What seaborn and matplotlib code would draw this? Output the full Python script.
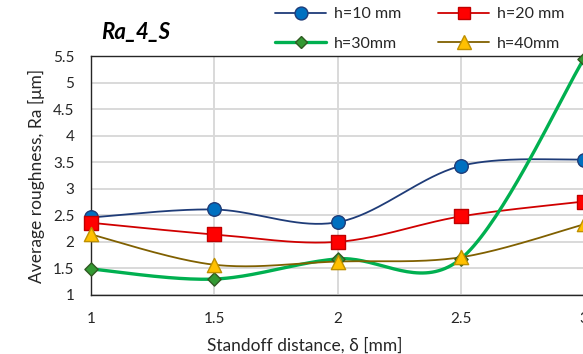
import numpy as np
import pandas as pd
import matplotlib
matplotlib.use("Agg")
import matplotlib.pyplot as plt
from matplotlib.lines import Line2D
import seaborn as sns

# ---- data ----
standoff = [1.0, 1.5, 2.0, 2.5, 3.0]
h10 = [2.46, 2.61, 2.37, 3.43, 3.55]
h20 = [2.36, 2.14, 2.00, 2.48, 2.76]
h30 = [1.49, 1.30, 1.68, 1.68, 5.45]
h40 = [2.14, 1.57, 1.63, 1.71, 2.33]
labels = ["h=10 mm", "h=20 mm", "h=30mm", "h=40mm"]
yticks = [1, 1.5, 2, 2.5, 3, 3.5, 4, 4.5, 5, 5.5]
xticks = [1, 1.5, 2, 2.5, 3]

series = [h10, h20, h30, h40]
styles = [
    dict(line="#1F3C78", fill="#0070C0", edge="#1F3C78", marker="o", lw=1.3, s=95),
    dict(line="#D00000", fill="#FF0000", edge="#C00000", marker="s", lw=1.3, s=90),
    dict(line="#00B050", fill="#339933", edge="#2F5A22", marker="D", lw=2.4, s=45),
    dict(line="#806000", fill="#FFC000", edge="#BF9000", marker="^", lw=1.3, s=105),
]


def smooth(xs, ys, n=40):
    """Excel-like smoothed line (Catmull-Rom / Bezier)."""
    P = np.column_stack([xs, ys]).astype(float)
    Pe = np.vstack([P[0], P, P[-1]])
    out = []
    t = np.linspace(0, 1, n)[:, None]
    for i in range(len(P) - 1):
        p0, p1, p2, p3 = Pe[i], Pe[i + 1], Pe[i + 2], Pe[i + 3]
        c1 = p1 + (p2 - p0) / 6
        c2 = p2 - (p3 - p1) / 6
        seg = ((1 - t) ** 3) * p1 + 3 * ((1 - t) ** 2) * t * c1 + 3 * (1 - t) * t ** 2 * c2 + t ** 3 * p2
        out.append(seg if i == 0 else seg[1:])
    c = np.vstack(out)
    return c[:, 0], c[:, 1]


sns.set_theme(style="white")
plt.rcParams["font.family"] = ["Lato", "DejaVu Sans"]

fig = plt.figure(figsize=(5.83, 3.54), dpi=100)
ax = fig.add_axes([91 / 583, 1 - 295 / 354, (584 - 91) / 583, (295 - 56) / 354])

for ys, st in zip(series, styles):
    cx, cy = smooth(standoff, ys)
    sns.lineplot(x=cx, y=cy, ax=ax, color=st["line"], lw=st["lw"], sort=False,
                 estimator=None, zorder=3)
for ys, st in zip(series, styles):
    sns.scatterplot(x=standoff, y=ys, ax=ax, marker=st["marker"], s=st["s"],
                    color=st["fill"], edgecolor=st["edge"], linewidth=1.0,
                    zorder=4, clip_on=False)

ax.set_xlim(1, 3)
ax.set_ylim(1, 5.5)
ax.set_xticks(xticks)
ax.set_xticklabels(["1", "1.5", "2", "2.5", "3"])
ax.set_yticks(yticks)
ax.set_yticklabels(["1", "1.5", "2", "2.5", "3", "3.5", "4", "4.5", "5", "5.5"])
ax.grid(True, color="#D9D9D9", lw=1.4)
ax.set_axisbelow(True)
for sp in ax.spines.values():
    sp.set_color("#262626")
    sp.set_linewidth(1.0)
ax.tick_params(axis="both", length=0, labelsize=11, labelcolor="#262626")
ax.tick_params(axis="y", pad=12)
ax.tick_params(axis="x", pad=12)

ax.set_xlabel("Standoff distance, δ [mm]", fontsize=12.5, color="#262626")
ax.set_ylabel("Average roughness, Ra [μm]", fontsize=12.5, color="#262626", labelpad=6)
ax.xaxis.set_label_coords((305 - 91) / (584 - 91), -(345 - 295) / (295 - 56))
ax.xaxis.label.set_va("center")

fig.text(101 / 583, 1 - 32 / 354, "Ra_4_S", fontsize=16, fontweight="bold",
         fontstyle="italic", va="center", ha="left", color="#000000")

order = [0, 2, 1, 3]
handles = [Line2D([0], [0], color=styles[i]["line"], lw=styles[i]["lw"],
                  marker=styles[i]["marker"],
                  markerfacecolor=styles[i]["fill"], markeredgecolor=styles[i]["edge"],
                  markersize=np.sqrt(styles[i]["s"]) * 0.95)
           for i in order]
fig.legend(handles, [labels[i] for i in order], loc="upper left",
           bbox_to_anchor=(268 / 583, 1.0),
           ncol=2, frameon=False, fontsize=11.5, handlelength=3.2,
           handletextpad=0.5, columnspacing=2.3, labelspacing=0.95,
           borderaxespad=0.05)

fig.savefig("out.png", dpi=100)
